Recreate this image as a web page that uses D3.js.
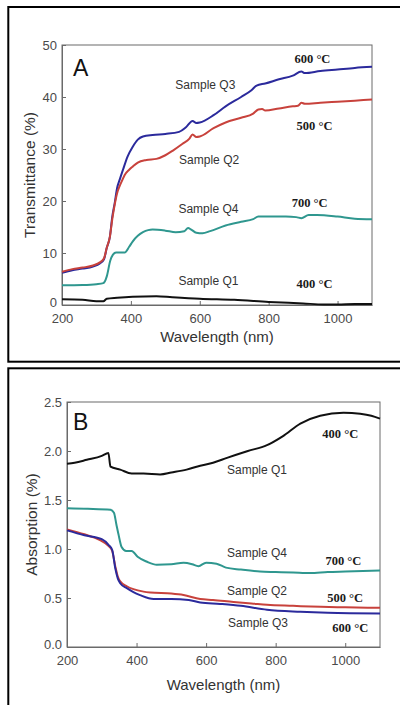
<!DOCTYPE html>
<html>
<head>
<meta charset="utf-8">
<script src="https://cdn.jsdelivr.net/npm/d3@7"></script>
<style>
  html, body { margin: 0; padding: 0; background: #fff; }
  svg { display: block; }
</style>
</head>
<body>
<div id="chart"></div>
<script>
// ---- data: wavelength (nm) and value pairs ----
const xTicks = [200, 400, 600, 800, 1000];

// panel A: transmittance (%)
const tQ1 = [[200,1.1],[260,1.0],[300,0.7],[320,0.7],[330,1.2],[360,1.4],[405,1.6],[474,1.7],[520,1.5],[600,1.2],[700,1.0],[800,0.6],[900,0.3],[960,0.1],[1000,0.1],[1050,0.2],[1100,0.2]];
const tQ2 = [[200,6.4],[230,6.9],[260,7.2],[290,7.6],[310,8.2],[322,9],[330,11],[339,13.1],[346,16.5],[353,19.3],[360,21.5],[367,22.8],[375,24],[382,25],[395,26],[405,26.6],[420,27.4],[445,27.9],[474,28.1],[500,28.8],[522,29.7],[550,31],[570,32],[579,32.8],[590,32.3],[600,32.4],[640,34],[675,35.1],[720,36],[755,36.8],[770,37.6],[781,37.7],[790,37.4],[830,37.8],[870,38.2],[885,38.3],[895,38.9],[905,38.7],[950,38.9],[1000,39.1],[1050,39.3],[1100,39.5]];
const tQ3 = [[200,6.2],[230,6.7],[260,7.0],[290,7.4],[310,8.0],[322,8.8],[330,11],[339,13.1],[346,17],[353,19.6],[360,22.5],[368,24.2],[377,26],[390,28.5],[405,30.4],[420,31.8],[435,32.4],[463,32.7],[500,32.9],[540,33.3],[560,34.2],[579,35.4],[590,35.0],[600,35.1],[640,36.5],[675,38.2],[720,40],[750,41.3],[765,42.2],[790,42.6],[830,43.4],[870,44.1],[895,44.9],[905,44.6],[950,45.0],[1000,45.3],[1050,45.6],[1100,45.8]];
const tQ4 = [[200,3.8],[260,3.85],[300,4.0],[320,4.2],[330,5.5],[340,8.5],[348,9.7],[357,10.1],[382,10.1],[395,11.2],[405,12.2],[420,13.3],[435,14.0],[450,14.4],[463,14.5],[500,14.3],[530,14.0],[555,14.2],[566,14.8],[575,14.5],[590,13.9],[608,13.8],[630,14.2],[675,15.3],[720,16],[755,16.5],[770,17.0],[800,17.0],[850,17.0],[880,16.9],[895,16.7],[916,17.3],[940,17.3],[1000,17.0],[1050,16.6],[1100,16.5]];
const tTicks = [0, 10, 20, 30, 40, 50];

// panel B: absorption (%)
const aQ1 = [[200,1.87],[222,1.88],[257,1.91],[300,1.95],[319,1.98],[325,1.84],[353,1.81],[386,1.77],[420,1.77],[468,1.76],[500,1.78],[544,1.81],[583,1.85],[620,1.88],[660,1.93],[720,2.0],[775,2.06],[820,2.15],[871,2.28],[928,2.36],[995,2.39],[1043,2.38],[1075,2.36],[1100,2.33]];
const aQ2 = [[200,1.20],[250,1.15],[295,1.09],[320,1.03],[330,0.98],[339,0.82],[346,0.72],[353,0.67],[372,0.62],[391,0.59],[420,0.565],[440,0.556],[500,0.545],[535,0.53],[583,0.49],[620,0.48],[679,0.46],[730,0.445],[775,0.43],[850,0.42],[930,0.41],[1000,0.405],[1100,0.40]];
const aQ3 = [[200,1.19],[250,1.14],[300,1.10],[320,1.04],[330,0.99],[339,0.80],[346,0.70],[353,0.65],[372,0.60],[391,0.56],[410,0.53],[449,0.49],[500,0.49],[550,0.48],[583,0.455],[640,0.44],[700,0.42],[775,0.38],[871,0.36],[950,0.35],[1100,0.343]];
const aQ4 = [[200,1.415],[260,1.41],[325,1.40],[335,1.37],[342,1.25],[348,1.15],[357,1.02],[370,0.98],[386,0.98],[403,0.92],[430,0.87],[458,0.84],[500,0.845],[535,0.86],[560,0.845],[578,0.825],[600,0.86],[630,0.85],[657,0.81],[700,0.79],[755,0.77],[800,0.765],[850,0.76],[899,0.754],[950,0.765],[1000,0.77],[1100,0.78]];
const aTicks = [0, 0.5, 1.0, 1.5, 2.0, 2.5];

const colors = { Q1: "#111111", Q2: "#c8423c", Q3: "#2b2a9c", Q4: "#2f978f" };

// annotations: [text, wavelength, value, kind]
const tNotes = [
    ["Sample Q3", 529, 41.5, "s"], ["600 °C", 875, 46.5, "t"],
    ["500 °C", 881, 33.7, "t"], ["Sample Q2", 540, 27.1, "s"],
    ["Sample Q4", 538, 17.7, "s"], ["700 °C", 867, 18.8, "t"],
    ["Sample Q1", 538, 3.85, "s"], ["400 °C", 881, 3.3, "t"]
];
const aNotes = [
    ["400 °C", 934, 2.13, "t"], ["Sample Q1", 660, 1.765, "s"],
    ["Sample Q4", 660, 0.918, "s"], ["700 °C", 943, 0.837, "t"],
    ["Sample Q2", 660, 0.53, "s"], ["500 °C", 948, 0.46, "t"],
    ["Sample Q3", 663, 0.204, "s"], ["600 °C", 963, 0.153, "t"]
];

const svg = d3.select("#chart").append("svg")
    .attr("width", 400).attr("height", 705);

// outer panel frames
svg.append("rect").attr("x", 8.3).attr("y", 7).attr("width", 400).attr("height", 354.7)
    .attr("fill", "none").attr("stroke", "#000").attr("stroke-width", 2);
svg.append("rect").attr("x", 8.3).attr("y", 368.3).attr("width", 400).attr("height", 400)
    .attr("fill", "none").attr("stroke", "#000").attr("stroke-width", 2);

function drawPanel(p) {
    const x = d3.scaleLinear().domain([200, 1100]).range([p.left, p.right]);
    const y = d3.scaleLinear().domain(p.yDomain).range([p.bottom, p.top]);
    const g = svg.append("g");
    const font = "'Liberation Sans', Arial, sans-serif";

    g.append("rect")
        .attr("x", p.left).attr("y", p.top)
        .attr("width", p.right - p.left).attr("height", p.bottom - p.top)
        .attr("fill", "none").attr("stroke", "#6a6a6a").attr("stroke-width", 1);

    const xAxis = g.append("g").attr("transform", `translate(0,${p.bottom})`)
        .call(d3.axisBottom(x).tickValues(xTicks).tickSizeInner(-4).tickSizeOuter(0)
            .tickPadding(9).tickFormat(d3.format("d")));
    const yAxis = g.append("g").attr("transform", `translate(${p.left},0)`)
        .call(d3.axisLeft(y).tickValues(p.yTicks).tickSizeInner(-4).tickSizeOuter(0)
            .tickPadding(5).tickFormat(p.yFormat));
    [xAxis, yAxis].forEach((a) => {
        a.select(".domain").attr("stroke", "#6a6a6a");
        a.selectAll(".tick line").attr("stroke", "#6a6a6a");
        a.selectAll(".tick text").attr("fill", "#4a4a4a")
            .style("font-family", font).style("font-size", "13px");
    });
    // bottom y label sits a touch higher, clear of the first x label
    yAxis.selectAll(".tick text").filter((d) => d === 0).attr("dy", "0.15em");

    const line = d3.line().x((d) => x(d[0])).y((d) => y(d[1])).curve(d3.curveMonotoneX);
    p.series.forEach((s) => {
        g.append("path").datum(s.data)
            .attr("d", line).attr("fill", "none")
            .attr("stroke", s.color).attr("stroke-width", 2)
            .attr("stroke-linejoin", "round");
    });

    g.append("text")
        .attr("x", (p.left + p.right) / 2).attr("y", p.bottom + p.xTitleOffset)
        .attr("text-anchor", "middle").attr("fill", "#333")
        .style("font-family", font).style("font-size", "15px")
        .text("Wavelength (nm)");

    g.append("text")
        .attr("transform", `translate(${p.yTitleX},${(p.top + p.bottom) / 2}) rotate(-90)`)
        .attr("text-anchor", "middle").attr("dy", "0.35em").attr("fill", "#333")
        .style("font-family", font).style("font-size", "15.5px")
        .text(p.yTitle);

    g.append("text")
        .attr("x", x(p.letterAt[0])).attr("y", y(p.letterAt[1]))
        .attr("fill", "#111").style("font-family", font).style("font-size", "23px")
        .text(p.letter);

    g.selectAll(".note").data(p.notes).enter().append("text")
        .attr("x", (d) => x(d[1])).attr("y", (d) => y(d[2]))
        .attr("fill", (d) => (d[3] === "t" ? "#1a1a1a" : "#333"))
        .style("font-family", (d) => (d[3] === "t" ? "'Liberation Serif', 'Times New Roman', serif" : font))
        .style("font-weight", (d) => (d[3] === "t" ? "bold" : "normal"))
        .style("font-size", (d) => (d[3] === "t" ? "12.5px" : "12px"))
        .text((d) => d[0]);
}

drawPanel({
    left: 62, right: 372, top: 45, bottom: 305,
    yDomain: [0, 50], yTicks: tTicks, yFormat: d3.format("d"),
    yTitle: "Transmittance (%)", yTitleX: 30, xTitleOffset: 37,
    letter: "A", letterAt: [232, 44],
    notes: tNotes,
    series: [
        { data: tQ1, color: colors.Q1 },
        { data: tQ4, color: colors.Q4 },
        { data: tQ3, color: colors.Q3 },
        { data: tQ2, color: colors.Q2 }
    ]
});

drawPanel({
    left: 67, right: 380, top: 402, bottom: 647,
    yDomain: [0, 2.5], yTicks: aTicks, yFormat: d3.format(".1f"),
    yTitle: "Absorption (%)", yTitleX: 32, xTitleOffset: 43,
    letter: "B", letterAt: [217, 2.214],
    notes: aNotes,
    series: [
        { data: aQ1, color: colors.Q1 },
        { data: aQ4, color: colors.Q4 },
        { data: aQ2, color: colors.Q2 },
        { data: aQ3, color: colors.Q3 }
    ]
});
</script>
</body>
</html>
